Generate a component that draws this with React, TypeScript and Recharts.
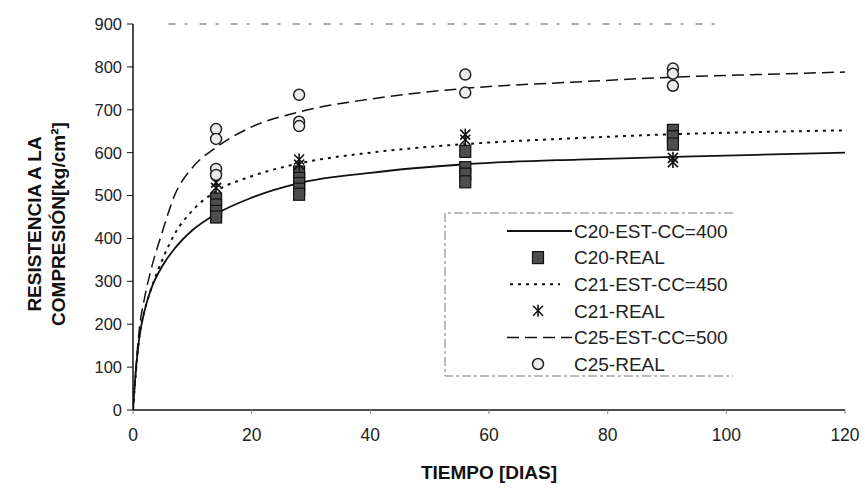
import React from 'react'
import {
  ComposedChart, Line, Scatter, XAxis, YAxis, Label, ReferenceLine,
} from 'recharts'

const FONT = '"Liberation Sans", Arial, Helvetica, sans-serif'

const xTicks = [0, 20, 40, 60, 80, 100, 120]
const yTicks = [0, 100, 200, 300, 400, 500, 600, 700, 800, 900]

// curvas estimadas
const estDays = [0, 0.5, 1, 2, 3, 5, 7, 10, 14, 20, 28, 40, 56, 75, 91, 105, 120]
const c20Est = [0, 95, 162, 234, 280, 337, 376, 419, 457, 495, 529, 553, 573, 584, 590, 595, 600]
const c21Est = [0, 90, 165, 234, 280, 352, 410, 465, 510, 545, 575, 600, 620, 634, 643, 648, 652]
const c25Est = [0, 100, 180, 265, 325, 418, 500, 565, 612, 660, 695, 725, 750, 765, 776, 782, 788]

// ensayos reales
const c20RealDays = [14, 14, 14, 14, 28, 28, 28, 28, 28, 56, 56, 56, 56, 91, 91, 91]
const c20RealVals = [492, 478, 463, 450, 555, 540, 528, 515, 503, 603, 565, 550, 532, 652, 637, 620]
const c21RealDays = [14, 14, 28, 28, 56, 56, 91, 91]
const c21RealVals = [530, 518, 584, 572, 642, 630, 588, 578]
const c25RealDays = [14, 14, 14, 14, 28, 28, 28, 56, 56, 91, 91, 91]
const c25RealVals = [655, 632, 562, 548, 735, 672, 662, 782, 740, 796, 784, 756]

// borde superior borroso del escaneo
const topEdge = [6, 99]

const legendLabels = [
  'C20-EST-CC=400', 'C20-REAL', 'C21-EST-CC=450',
  'C21-REAL', 'C25-EST-CC=500', 'C25-REAL',
]
const legendKinds = ['solid', 'square', 'dotted', 'x', 'dashed', 'circle']

const pts = (ts: number[], vs: number[]) => ts.map((t, i) => ({ t, v: vs[i] }))

const DOTTED = '3 5'
const DASHED = '12 6'

function SquareMark({ cx, cy }: { cx: number; cy: number }) {
  return <rect x={cx - 5.5} y={cy - 6} width={11} height={12} fill="#4d4d4d" stroke="#111" strokeWidth={1.2} />
}

function XMark({ cx, cy }: { cx: number; cy: number }) {
  return (
    <g stroke="#111" strokeWidth={1.6}>
      <line x1={cx - 5} y1={cy - 5} x2={cx + 5} y2={cy + 5} />
      <line x1={cx - 5} y1={cy + 5} x2={cx + 5} y2={cy - 5} />
      <line x1={cx} y1={cy - 6} x2={cx} y2={cy + 6} />
    </g>
  )
}

function CircleMark({ cx, cy }: { cx: number; cy: number }) {
  return <circle cx={cx} cy={cy} r={5.5} fill="#ececec" stroke="#222" strokeWidth={1.5} />
}

function LegendBox() {
  const rowH = 26.6
  return (
    <svg width={292} height={166} style={{ position: 'absolute', left: 444, top: 212 }}>
      <path d="M 289 1 L 1 1 L 1 164 L 289 164" fill="#fff" stroke="#777" strokeWidth={1} strokeDasharray="9 3 3 3" />
      {legendLabels.map((lab, i) => {
        const y = 19 + i * rowH
        const k = legendKinds[i]
        return (
          <g key={lab}>
            {k === 'solid' && <line x1={63} x2={128} y1={y} y2={y} stroke="#111" strokeWidth={1.8} />}
            {k === 'dotted' && <line x1={66} x2={116} y1={y} y2={y} stroke="#111" strokeWidth={2} strokeDasharray={DOTTED} />}
            {k === 'dashed' && <line x1={63} x2={128} y1={y} y2={y} stroke="#111" strokeWidth={1.5} strokeDasharray={DASHED} />}
            {k === 'square' && <SquareMark cx={94} cy={y} />}
            {k === 'x' && <XMark cx={94} cy={y} />}
            {k === 'circle' && <CircleMark cx={94} cy={y} />}
            <text x={130} y={y + 6.8} fontSize={19} fontFamily={FONT} fill="#222">{lab}</text>
          </g>
        )
      })}
    </svg>
  )
}

export default function App() {
  const yTickStyle = { fontSize: 16.5, fill: '#222', fontFamily: FONT }
  const xTickStyle = { fontSize: 17.5, fill: '#222', fontFamily: FONT }
  return (
    <div style={{ position: 'fixed', left: 0, top: 0, width: 865, height: 499, background: '#fff' }}>
      <ComposedChart width={865} height={499} margin={{ top: 24, right: 20, bottom: 0, left: 0 }}>
        <XAxis
          type="number"
          dataKey="t"
          domain={[0, 120]}
          ticks={xTicks}
          height={89}
          tick={xTickStyle}
          tickSize={4}
          tickMargin={15}
          axisLine={{ stroke: '#111', strokeWidth: 1.5 }}
          tickLine={{ stroke: '#888' }}
          allowDataOverflow
        >
          <Label
            content={(p: any) => {
              const vb = p.viewBox || { x: 133, y: 410, width: 712 }
              return (
                <text x={vb.x + vb.width / 2} y={vb.y + 69} textAnchor="middle" fontSize={19} fontWeight="bold" fontFamily={FONT} fill="#111">
                  TIEMPO [DIAS]
                </text>
              )
            }}
          />
        </XAxis>
        <YAxis
          type="number"
          dataKey="v"
          domain={[0, 900]}
          ticks={yTicks}
          width={133}
          tick={yTickStyle}
          tickSize={6}
          tickMargin={5}
          axisLine={{ stroke: '#111', strokeWidth: 1.5 }}
          tickLine={{ stroke: '#111' }}
          allowDataOverflow
        >
          <Label
            content={() => {
              const cy = 224
              return (
                <g fontSize={19} fontWeight="bold" fontFamily={FONT} fill="#111">
                  <text x={41} y={cy} textAnchor="middle" transform={`rotate(-90, 41, ${cy})`}>RESISTENCIA A LA</text>
                  <text x={65} y={cy} textAnchor="middle" transform={`rotate(-90, 65, ${cy})`}>COMPRESIÓN[kg/cm²]</text>
                </g>
              )
            }}
          />
        </YAxis>
        <ReferenceLine
          segment={[{ x: topEdge[0], y: 900 }, { x: topEdge[1], y: 900 }]}
          stroke="#555"
          strokeWidth={1}
          strokeDasharray="7 9 3 12"
          ifOverflow="visible"
        />
        <Line data={pts(estDays, c20Est)} dataKey="v" type="monotone" stroke="#111" strokeWidth={1.8} dot={false} activeDot={false} isAnimationActive={false} />
        <Line data={pts(estDays, c21Est)} dataKey="v" type="monotone" stroke="#111" strokeWidth={2} strokeDasharray={DOTTED} dot={false} activeDot={false} isAnimationActive={false} />
        <Line data={pts(estDays, c25Est)} dataKey="v" type="monotone" stroke="#111" strokeWidth={1.5} strokeDasharray={DASHED} dot={false} activeDot={false} isAnimationActive={false} />
        <Scatter data={pts(c20RealDays, c20RealVals)} dataKey="v" isAnimationActive={false} shape={(p: any) => <SquareMark cx={p.cx} cy={p.cy} />} />
        <Scatter data={pts(c21RealDays, c21RealVals)} dataKey="v" isAnimationActive={false} shape={(p: any) => <XMark cx={p.cx} cy={p.cy} />} />
        <Scatter data={pts(c25RealDays, c25RealVals)} dataKey="v" isAnimationActive={false} shape={(p: any) => <CircleMark cx={p.cx} cy={p.cy} />} />
      </ComposedChart>
      <LegendBox />
    </div>
  )
}
